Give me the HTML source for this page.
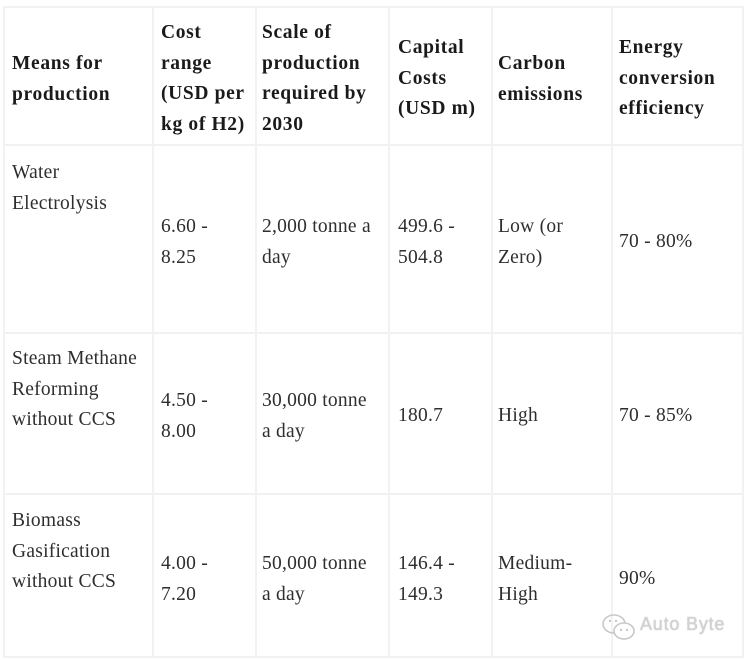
<!DOCTYPE html>
<html>
<head>
<meta charset="utf-8">
<style>
  html, body { margin:0; padding:0; background:#fff; }
  body { width:745px; height:660px; position:relative; overflow:hidden;
         font-family:"Liberation Serif", "DejaVu Serif", serif; }
  .vl { position:absolute; width:2px; background:#f2f2f2; top:6px; height:652px; }
  .hl { position:absolute; height:2px; background:#f1f1f1; left:3px; width:741px; }
  .c { position:absolute; white-space:nowrap; line-height:30.7px; font-size:19.5px; }
  .h { font-weight:bold; color:#1a1a1a; letter-spacing:0.65px; }
  .b { color:#2e2e2e; letter-spacing:0.25px; }
  .wm { position:absolute; left:640px; top:614px; font-family:"Liberation Sans", sans-serif;
        font-size:18px; color:#d2d2d2; letter-spacing:0.8px;
        text-shadow:0 0 1px #a8a8a8; }
</style>
</head>
<body>
  <!-- grid lines -->
  <div class="hl" style="top:6px;"></div>
  <div class="hl" style="top:144px;"></div>
  <div class="hl" style="top:332px;"></div>
  <div class="hl" style="top:493px;"></div>
  <div class="hl" style="top:656px;"></div>
  <div class="vl" style="left:3px;"></div>
  <div class="vl" style="left:152px;"></div>
  <div class="vl" style="left:255px;"></div>
  <div class="vl" style="left:388px;"></div>
  <div class="vl" style="left:491px;"></div>
  <div class="vl" style="left:611px;"></div>
  <div class="vl" style="left:742px;"></div>

  <!-- header -->
  <div class="c h" style="left:12px; top:49px;">Means for<br>production</div>
  <div class="c h" style="left:161px; top:18px;">Cost<br>range<br>(USD per<br>kg of H2)</div>
  <div class="c h" style="left:262px; top:18px;">Scale of<br>production<br>required by<br>2030</div>
  <div class="c h" style="left:398px; top:33px;">Capital<br>Costs<br>(USD m)</div>
  <div class="c h" style="left:498px; top:49px;">Carbon<br>emissions</div>
  <div class="c h" style="left:619px; top:33px;">Energy<br>conversion<br>efficiency</div>

  <!-- row 1 -->
  <div class="c b" style="left:12px; top:158px;">Water<br>Electrolysis</div>
  <div class="c b" style="left:161px; top:212px;">6.60 -<br>8.25</div>
  <div class="c b" style="left:262px; top:212px;">2,000 tonne a<br>day</div>
  <div class="c b" style="left:398px; top:212px;">499.6 -<br>504.8</div>
  <div class="c b" style="left:498px; top:212px;">Low (or<br>Zero)</div>
  <div class="c b" style="left:619px; top:227px;">70 - 80%</div>

  <!-- row 2 -->
  <div class="c b" style="left:12px; top:344px;">Steam Methane<br>Reforming<br>without CCS</div>
  <div class="c b" style="left:161px; top:386px;">4.50 -<br>8.00</div>
  <div class="c b" style="left:262px; top:386px;">30,000 tonne<br>a day</div>
  <div class="c b" style="left:398px; top:401px;">180.7</div>
  <div class="c b" style="left:498px; top:401px;">High</div>
  <div class="c b" style="left:619px; top:401px;">70 - 85%</div>

  <!-- row 3 -->
  <div class="c b" style="left:12px; top:506px;">Biomass<br>Gasification<br>without CCS</div>
  <div class="c b" style="left:161px; top:549px;">4.00 -<br>7.20</div>
  <div class="c b" style="left:262px; top:549px;">50,000 tonne<br>a day</div>
  <div class="c b" style="left:398px; top:549px;">146.4 -<br>149.3</div>
  <div class="c b" style="left:498px; top:549px;">Medium-<br>High</div>
  <div class="c b" style="left:619px; top:564px;">90%</div>

  <!-- watermark -->
  <svg style="position:absolute; left:600px; top:611px;" width="40" height="34" viewBox="0 0 40 34">
    <ellipse cx="14" cy="13" rx="11" ry="9" fill="none" stroke="#c8c8c8" stroke-width="1.6"/>
    <ellipse cx="24" cy="20" rx="10" ry="8" fill="#fff" stroke="#c8c8c8" stroke-width="1.6"/>
    <circle cx="21" cy="19" r="1.2" fill="#c8c8c8"/>
    <circle cx="27" cy="19" r="1.2" fill="#c8c8c8"/>
    <circle cx="10" cy="10" r="1.2" fill="#c8c8c8"/>
    <circle cx="16" cy="10" r="1.2" fill="#c8c8c8"/>
  </svg>
  <div class="wm">Auto Byte</div>
</body>
</html>
